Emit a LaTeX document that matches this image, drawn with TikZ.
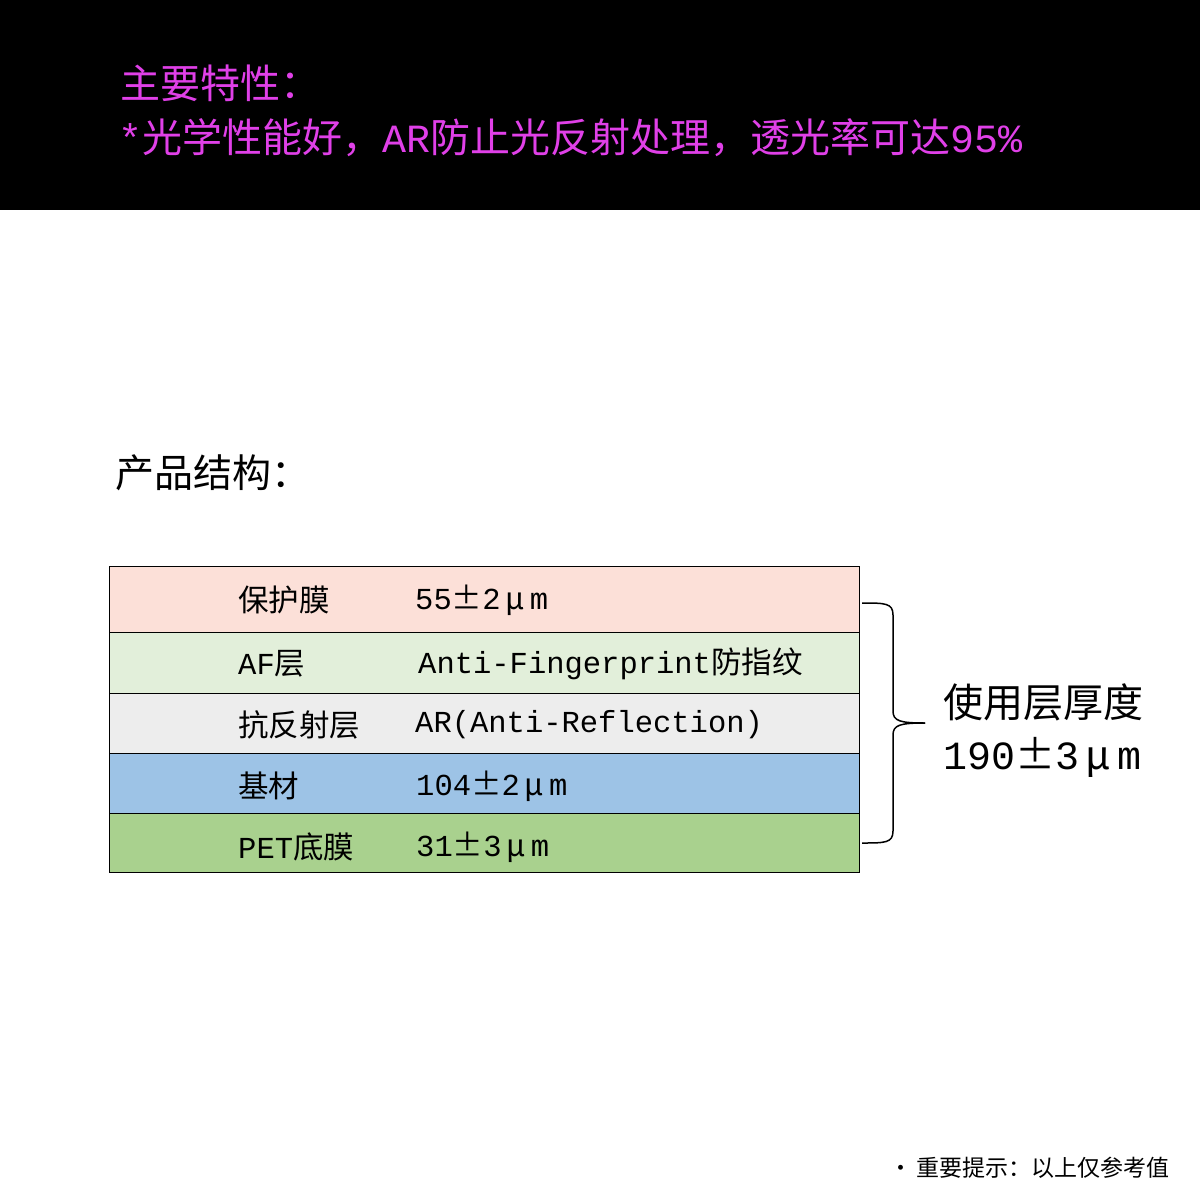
\documentclass[tikz,border=0pt]{standalone}
\usepackage{fontspec}
\setmainfont{Noto Sans CJK SC}
\newfontfamily\lm{Liberation Mono}
\definecolor{mag}{HTML}{E040E8}
\tikzset{row/.style={draw=black,line width=1pt},
 txt/.style={anchor=west,inner sep=0pt,font=\fontsize{30.5}{31}\selectfont}}
\newcommand{\mum}{\,μ\,{\lm m}}
\begin{document}
\begin{tikzpicture}[x=1pt,y=-1pt]
\useasboundingbox (0,0) rectangle (1200,1200);
\fill[white] (0,0) rectangle (1200,1200);
\fill[black] (0,0) rectangle (1200,210);
\node[anchor=west,inner sep=0pt,text=mag,font=\fontsize{40}{41}\selectfont] (t1) at (120,83) {主要特性：};
\node[anchor=west,inner sep=0pt,text=mag,font=\fontsize{40}{41}\selectfont] (t2) at (118,138) {{\lm *}光学性能好，{\lm AR}防止光反射处理，透光率可达{\lm 95\%}};
\node[anchor=west,inner sep=0pt,font=\fontsize{39}{40}\selectfont] (h) at (115,473) {产品结构：};
\filldraw[row,fill={rgb,255:red,252;green,224;blue,216}] (109,566) rectangle (859,632);
\filldraw[row,fill={rgb,255:red,226;green,239;blue,218}] (109,632) rectangle (859,693);
\filldraw[row,fill={rgb,255:red,237;green,237;blue,237}] (109,693) rectangle (859,753);
\filldraw[row,fill={rgb,255:red,157;green,195;blue,230}] (109,753) rectangle (859,813);
\filldraw[row,fill={rgb,255:red,169;green,209;blue,142}] (109,813) rectangle (859,872);
\node[txt] (a1) at (238,600) {保护膜}; \node[txt] (b1) at (415,600) {{\lm 55}±{\lm 2}\mum};
\node[txt] (a2) at (238,664) {{\lm AF}层}; \node[txt] (b2) at (418,664) {{\lm Anti-Fingerprint}防指纹};
\node[txt] (a3) at (238,725) {抗反射层}; \node[txt] (b3) at (415,725) {{\lm AR(Anti-Reflection)}};
\node[txt] (a4) at (238,786) {基材}; \node[txt] (b4) at (416,786) {{\lm 104}±{\lm 2}\mum};
\node[txt] (a5) at (238,847) {{\lm PET}底膜}; \node[txt] (b5) at (416,847) {{\lm 31}±{\lm 3}\mum};
\coordinate (bt) at (862,603); \coordinate (bb) at (862,843); \coordinate (bm) at (925,723);
\draw[line width=1.5pt] (bt) .. controls (885,603) and (893,603) .. (893,615) -- (893,711)
  .. controls (893,721) and (900,723) .. (bm);
\draw[line width=1.5pt] (bb) .. controls (885,843) and (893,843) .. (893,831) -- (893,735)
  .. controls (893,725) and (900,723) .. (bm);
\node[anchor=west,inner sep=0pt,font=\fontsize{40}{41}\selectfont] (u1) at (943,702) {使用层厚度};
\node[anchor=west,inner sep=0pt,font=\fontsize{40}{41}\selectfont] (u2) at (943,757) {{\lm 190}±{\lm 3}\,μ\,{\lm m}};
\node[anchor=east,inner sep=0pt,font=\fontsize{23}{24}\selectfont] (n) at (1170,1168) {•\,重要提示：以上仅参考值};
\end{tikzpicture}
\end{document}
